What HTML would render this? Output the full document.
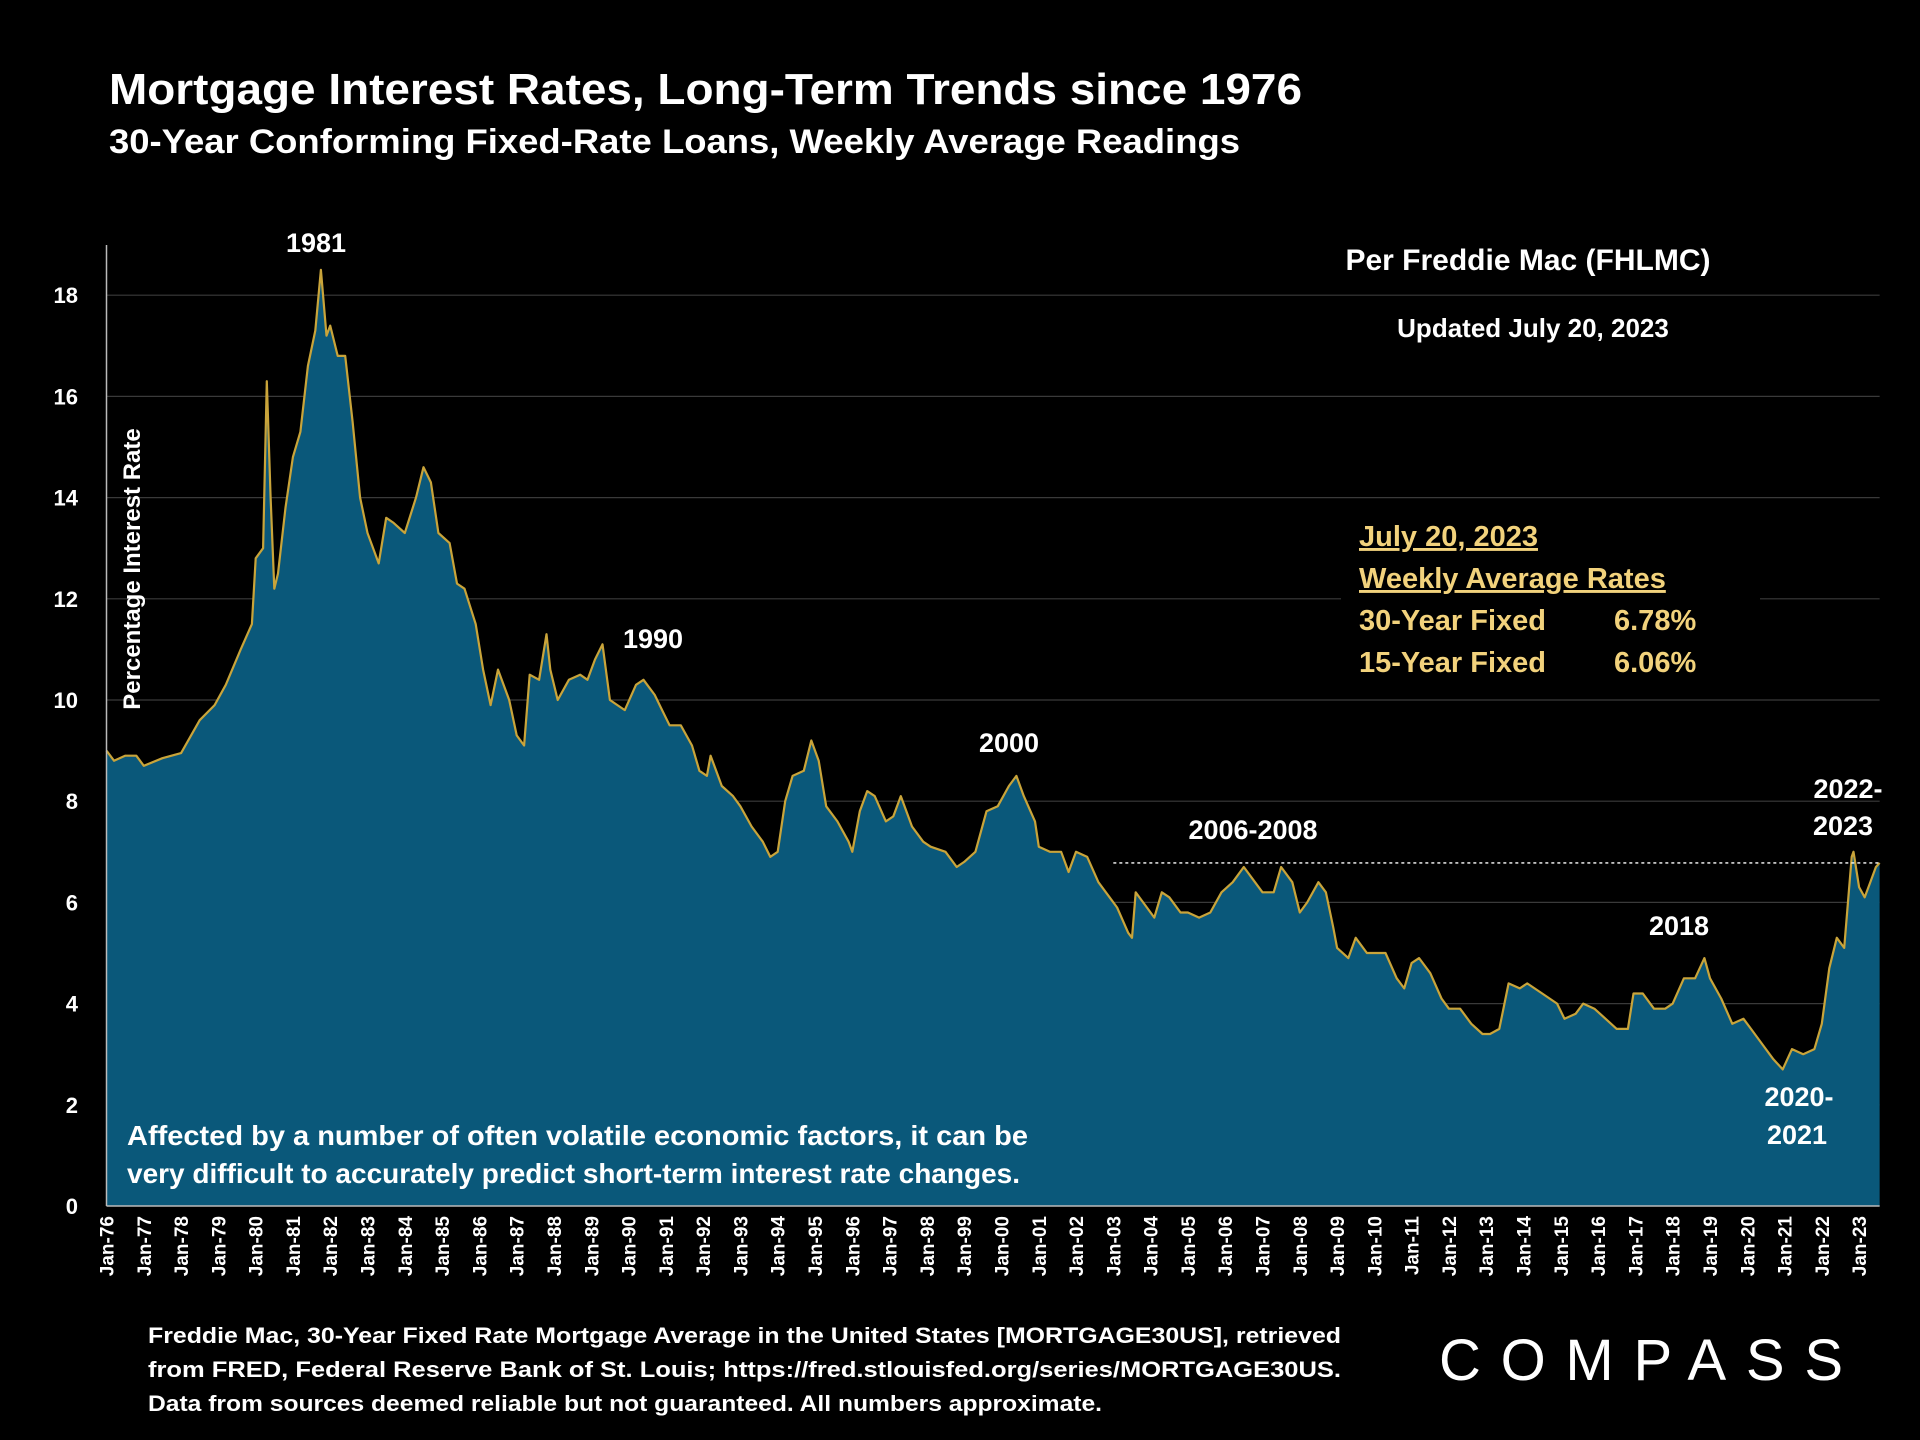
<!DOCTYPE html>
<html><head><meta charset="utf-8"><style>
html,body{margin:0;padding:0;background:#000;}
svg{display:block;font-family:"Liberation Sans",sans-serif;}
</style></head><body>
<svg id="chart" width="1920" height="1440" viewBox="0 0 1920 1440" xmlns="http://www.w3.org/2000/svg">
<rect width="1920" height="1440" fill="#000"/>
<text x="109" y="104" fill="#fff" font-size="44" font-weight="bold" textLength="1193" lengthAdjust="spacingAndGlyphs">Mortgage Interest Rates, Long-Term Trends since 1976</text>
<text x="109" y="153" fill="#fff" font-size="34" font-weight="bold" textLength="1131" lengthAdjust="spacingAndGlyphs">30-Year Conforming Fixed-Rate Loans, Weekly Average Readings</text>
<g id="grid"></g>
<g id="area"></g>
<g id="yaxis"></g>
<g id="xaxis"></g>
<text transform="translate(140,569) rotate(-90)" text-anchor="middle" fill="#fff" font-size="24" font-weight="bold">Percentage Interest  Rate</text>
<g font-size="27" font-weight="bold" fill="#fff" text-anchor="middle">
<text x="316" y="252">1981</text>
<text x="653" y="648">1990</text>
<text x="1009" y="752">2000</text>
<text x="1253" y="839">2006-2008</text>
<text x="1679" y="935">2018</text>
<text x="1848" y="798">2022-</text>
<text x="1843" y="835">2023</text>
<text x="1799" y="1106">2020-</text>
<text x="1797" y="1144">2021</text>
</g>
<text x="1528" y="270" text-anchor="middle" fill="#fff" font-size="30" font-weight="bold">Per Freddie Mac (FHLMC)</text>
<text x="1533" y="337" text-anchor="middle" fill="#fff" font-size="26" font-weight="bold">Updated July 20, 2023</text>
<rect x="1341" y="514" width="419" height="166" fill="#000"/>
<g fill="#f2d27c" font-size="29" font-weight="bold">
<text x="1359" y="546" text-decoration="underline">July 20, 2023</text>
<text x="1359" y="588" text-decoration="underline">Weekly Average Rates</text>
<text x="1359" y="630">30-Year Fixed</text>
<text x="1614" y="630">6.78%</text>
<text x="1359" y="672">15-Year Fixed</text>
<text x="1614" y="672">6.06%</text>
</g>
<g fill="#fff" font-size="28" font-weight="bold">
<text x="127" y="1145" textLength="901" lengthAdjust="spacingAndGlyphs">Affected by a number of often volatile economic factors, it can be</text>
<text x="127" y="1183" textLength="893" lengthAdjust="spacingAndGlyphs">very difficult to accurately predict short-term interest rate changes.</text>
</g>
<g fill="#fff" font-size="22" font-weight="bold">
<text x="148" y="1343" textLength="1193" lengthAdjust="spacingAndGlyphs">Freddie Mac, 30-Year Fixed Rate Mortgage Average in the United States [MORTGAGE30US], retrieved</text>
<text x="148" y="1377" textLength="1193" lengthAdjust="spacingAndGlyphs">from FRED, Federal Reserve Bank of St. Louis; https://fred.stlouisfed.org/series/MORTGAGE30US.</text>
<text x="148" y="1411" textLength="954" lengthAdjust="spacingAndGlyphs">Data from sources deemed reliable but not guaranteed. All numbers approximate.</text>
</g>
<text x="1439" y="1380" fill="#fff" font-size="58" textLength="404" lengthAdjust="spacing">COMPASS</text>
</svg>
<script>
const dates=[1976.0,1976.2,1976.5,1976.8,1977.0,1977.5,1978.0,1978.5,1978.9,1979.2,1979.6,1979.9,1980.0,1980.2,1980.3,1980.4,1980.5,1980.6,1980.8,1981.0,1981.2,1981.4,1981.6,1981.75,1981.9,1982.0,1982.2,1982.4,1982.6,1982.8,1983.0,1983.3,1983.5,1983.7,1984.0,1984.3,1984.5,1984.7,1984.9,1985.2,1985.4,1985.6,1985.9,1986.1,1986.3,1986.5,1986.8,1987.0,1987.2,1987.35,1987.6,1987.8,1987.9,1988.1,1988.4,1988.7,1988.9,1989.1,1989.3,1989.5,1989.7,1989.9,1990.2,1990.4,1990.7,1990.9,1991.1,1991.4,1991.7,1991.9,1992.1,1992.2,1992.5,1992.8,1993.0,1993.3,1993.6,1993.8,1994.0,1994.2,1994.4,1994.7,1994.9,1995.1,1995.3,1995.6,1995.9,1996.0,1996.2,1996.4,1996.6,1996.9,1997.1,1997.3,1997.6,1997.9,1998.1,1998.5,1998.8,1999.0,1999.3,1999.6,1999.9,2000.2,2000.4,2000.6,2000.9,2001.0,2001.3,2001.6,2001.8,2002.0,2002.3,2002.6,2002.9,2003.1,2003.4,2003.5,2003.6,2003.9,2004.1,2004.3,2004.5,2004.8,2005.0,2005.3,2005.6,2005.9,2006.2,2006.5,2006.8,2007.0,2007.3,2007.5,2007.8,2008.0,2008.2,2008.5,2008.7,2008.9,2009.0,2009.3,2009.5,2009.8,2010.0,2010.3,2010.6,2010.8,2011.0,2011.2,2011.5,2011.8,2012.0,2012.3,2012.6,2012.9,2013.1,2013.35,2013.6,2013.9,2014.1,2014.5,2014.9,2015.1,2015.4,2015.6,2015.9,2016.2,2016.5,2016.8,2016.95,2017.2,2017.5,2017.8,2018.0,2018.3,2018.6,2018.85,2019.0,2019.3,2019.6,2019.9,2020.1,2020.4,2020.7,2020.95,2021.2,2021.5,2021.8,2022.0,2022.2,2022.4,2022.6,2022.8,2022.85,2023.0,2023.15,2023.3,2023.45,2023.55];
const rates=[9.0,8.8,8.9,8.9,8.7,8.85,8.95,9.6,9.9,10.3,11.0,11.5,12.8,13.0,16.3,14.0,12.2,12.5,13.8,14.8,15.3,16.6,17.3,18.5,17.2,17.4,16.8,16.8,15.5,14.0,13.3,12.7,13.6,13.5,13.3,14.0,14.6,14.3,13.3,13.1,12.3,12.2,11.5,10.6,9.9,10.6,10.0,9.3,9.1,10.5,10.4,11.3,10.6,10.0,10.4,10.5,10.4,10.8,11.1,10.0,9.9,9.8,10.3,10.4,10.1,9.8,9.5,9.5,9.1,8.6,8.5,8.9,8.3,8.1,7.9,7.5,7.2,6.9,7.0,8.0,8.5,8.6,9.2,8.8,7.9,7.6,7.2,7.0,7.8,8.2,8.1,7.6,7.7,8.1,7.5,7.2,7.1,7.0,6.7,6.8,7.0,7.8,7.9,8.3,8.5,8.1,7.6,7.1,7.0,7.0,6.6,7.0,6.9,6.4,6.1,5.9,5.4,5.3,6.2,5.9,5.7,6.2,6.1,5.8,5.8,5.7,5.8,6.2,6.4,6.7,6.4,6.2,6.2,6.7,6.4,5.8,6.0,6.4,6.2,5.5,5.1,4.9,5.3,5.0,5.0,5.0,4.5,4.3,4.8,4.9,4.6,4.1,3.9,3.9,3.6,3.4,3.4,3.5,4.4,4.3,4.4,4.2,4.0,3.7,3.8,4.0,3.9,3.7,3.5,3.5,4.2,4.2,3.9,3.9,4.0,4.5,4.5,4.9,4.5,4.1,3.6,3.7,3.5,3.2,2.9,2.7,3.1,3.0,3.1,3.6,4.7,5.3,5.1,6.9,7.0,6.3,6.1,6.4,6.7,6.78];
const yTicks=[0,2,4,6,8,10,12,14,16,18];
const xYears=[];for(let y=1976;y<=2023;y++)xYears.push(y);
const currentRate=6.78, refLineStart=2003.0;

const NS="http://www.w3.org/2000/svg";
const X0=106.5, XPY=37.29, Y0=1206, YPU=50.6;
const xs=t=>X0+(t-1976)*XPY, ys=v=>Y0-v*YPU;
const xEnd=xs(2023.55);
function mk(tag,attrs,parent){const e=document.createElementNS(NS,tag);for(const k in attrs)e.setAttribute(k,attrs[k]);parent.appendChild(e);return e;}
const grid=document.getElementById('grid'),area=document.getElementById('area'),ya=document.getElementById('yaxis'),xa=document.getElementById('xaxis');
yTicks.forEach(v=>{
  if(v>0){const l=mk('line',{x1:X0,x2:xEnd,y1:ys(v),y2:ys(v),stroke:'#3a3a3a','stroke-width':1.2},grid);
  
  }
  const t=mk('text',{x:78,y:ys(v)+8,'text-anchor':'end',fill:'#fff','font-size':22,'font-weight':'bold'},ya);
  t.textContent=v;
  
  
});
let d='M'+xs(dates[0])+','+Y0;
dates.forEach((t,i)=>{d+=' L'+xs(t).toFixed(1)+','+ys(rates[i]).toFixed(1);});
const line='M'+dates.map((t,i)=>xs(t).toFixed(1)+','+ys(rates[i]).toFixed(1)).join(' L');
d+=' L'+xs(dates[dates.length-1])+','+Y0+' Z';
const a=mk('path',{d:d,fill:'#0a587a'},area);


const ln=mk('path',{d:line,fill:'none',stroke:'#c9a43a','stroke-width':2.2,'stroke-linejoin':'round'},area);


const rl=mk('line',{x1:xs(refLineStart),x2:xEnd,y1:ys(currentRate),y2:ys(currentRate),stroke:'#fff','stroke-width':1.3,'stroke-dasharray':'3,3'},area);


const ax=mk('line',{x1:X0,x2:X0,y1:245,y2:Y0,stroke:'#bbb','stroke-width':1.5},xa);


const bx=mk('line',{x1:X0,x2:xEnd,y1:Y0,y2:Y0,stroke:'#bbb','stroke-width':1.5},xa);


xYears.forEach(y=>{
  const x=xs(y);
  const t=mk('text',{transform:'translate('+(x+7)+',1216) rotate(-90)','text-anchor':'end',fill:'#fff','font-size':19,'font-weight':'bold'},xa);
  t.textContent='Jan-'+String(y).slice(2);
  
  
});
</script>
</body></html>
